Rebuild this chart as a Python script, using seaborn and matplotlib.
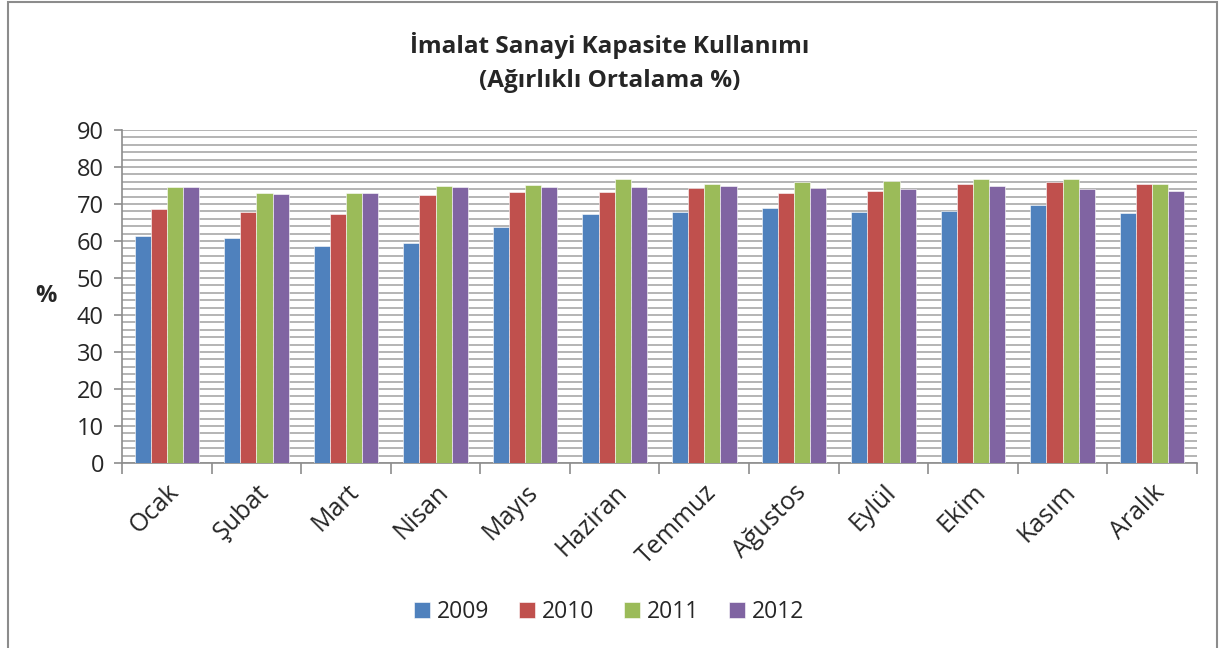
import numpy as np
import pandas as pd
import seaborn as sns
import matplotlib.pyplot as plt
from matplotlib.patches import Rectangle
from matplotlib.ticker import MultipleLocator

# data
months = ['Ocak', 'Şubat', 'Mart', 'Nisan', 'Mayıs', 'Haziran',
          'Temmuz', 'Ağustos', 'Eylül', 'Ekim', 'Kasım', 'Aralık']
years = ['2009', '2010', '2011', '2012']
v2009 = [61.4, 60.8, 58.6, 59.5, 63.9, 67.4, 67.9, 68.8, 67.9, 68.1, 69.7, 67.7]
v2010 = [68.6, 67.8, 67.2, 72.5, 73.2, 73.2, 74.3, 73.0, 73.5, 75.3, 75.9, 75.5]
v2011 = [74.5, 72.9, 73.1, 74.9, 75.1, 76.7, 75.4, 76.0, 76.1, 76.8, 76.8, 75.5]
v2012 = [74.7, 72.8, 73.0, 74.7, 74.7, 74.5, 74.8, 74.2, 74.0, 74.9, 74.0, 73.5]
colors = ['#4F81BD', '#C0504D', '#9BBB59', '#8064A2']

df = pd.DataFrame({
    'month': months * 4,
    'year': [y for y in years for _ in months],
    'value': v2009 + v2010 + v2011 + v2012,
})

sns.set_style('white')
plt.rcParams['font.family'] = ['Open Sans', 'DejaVu Sans']

fig = plt.figure(figsize=(12.19, 6.48), dpi=100)
ax = fig.add_axes([0.1001, 0.2855, 0.8818, 0.5139])

sns.barplot(data=df, x='month', y='value', hue='year', palette=colors, saturation=1,
            width=0.72, edgecolor='white', linewidth=0.4, ax=ax, zorder=3)

ax.set_ylim(0, 90)
ax.set_xlim(-0.5, 11.5)
ax.yaxis.set_major_locator(MultipleLocator(10))
ax.yaxis.set_minor_locator(MultipleLocator(2))
ax.grid(axis='y', which='both', color='#B4B4B4', linewidth=1.4, zorder=0)
ax.set_axisbelow(True)

for s in ['top', 'right']:
    ax.spines[s].set_visible(False)
for s in ['left', 'bottom']:
    ax.spines[s].set_color('#8C8C8C')
    ax.spines[s].set_linewidth(1.2)

ax.tick_params(axis='y', which='major', direction='out', length=6, width=1.2,
               color='#8C8C8C', labelsize=17, pad=7, left=True)
ax.tick_params(axis='y', which='minor', length=0)
ax.set_xticks(np.arange(12))
ax.set_xticklabels(months, rotation=45, ha='right', rotation_mode='anchor', fontsize=18)
ax.tick_params(axis='x', length=0, pad=12)
# category separator ticks
ax.set_xticks(np.arange(-0.5, 12, 1), minor=True)
ax.tick_params(axis='x', which='minor', direction='out', length=8, width=1.2,
               color='#8C8C8C', bottom=True)

ax.set_xlabel('')
ax.set_ylabel('%', rotation=0, fontsize=17, fontweight='bold', labelpad=22, va='center')

fig.text(0.5, 0.903, 'İmalat Sanayi Kapasite Kullanımı\n(Ağırlıklı Ortalama %)',
         ha='center', va='center', fontsize=17.5, fontweight='bold', linespacing=1.55)

handles, labels = ax.get_legend_handles_labels()
ax.legend_.remove()
fig.legend(handles, labels, loc='center', bbox_to_anchor=(0.5, 0.056), ncol=4,
           frameon=False, fontsize=16.5, handlelength=0.7, handleheight=0.7,
           handletextpad=0.3, columnspacing=1.3)

fig.patches.append(Rectangle((0.0066, -0.01), 0.9918, 1.007, transform=fig.transFigure,
                             fill=False, edgecolor='#8C8C8C', linewidth=1.5))

fig.savefig('out.png', dpi=100)
